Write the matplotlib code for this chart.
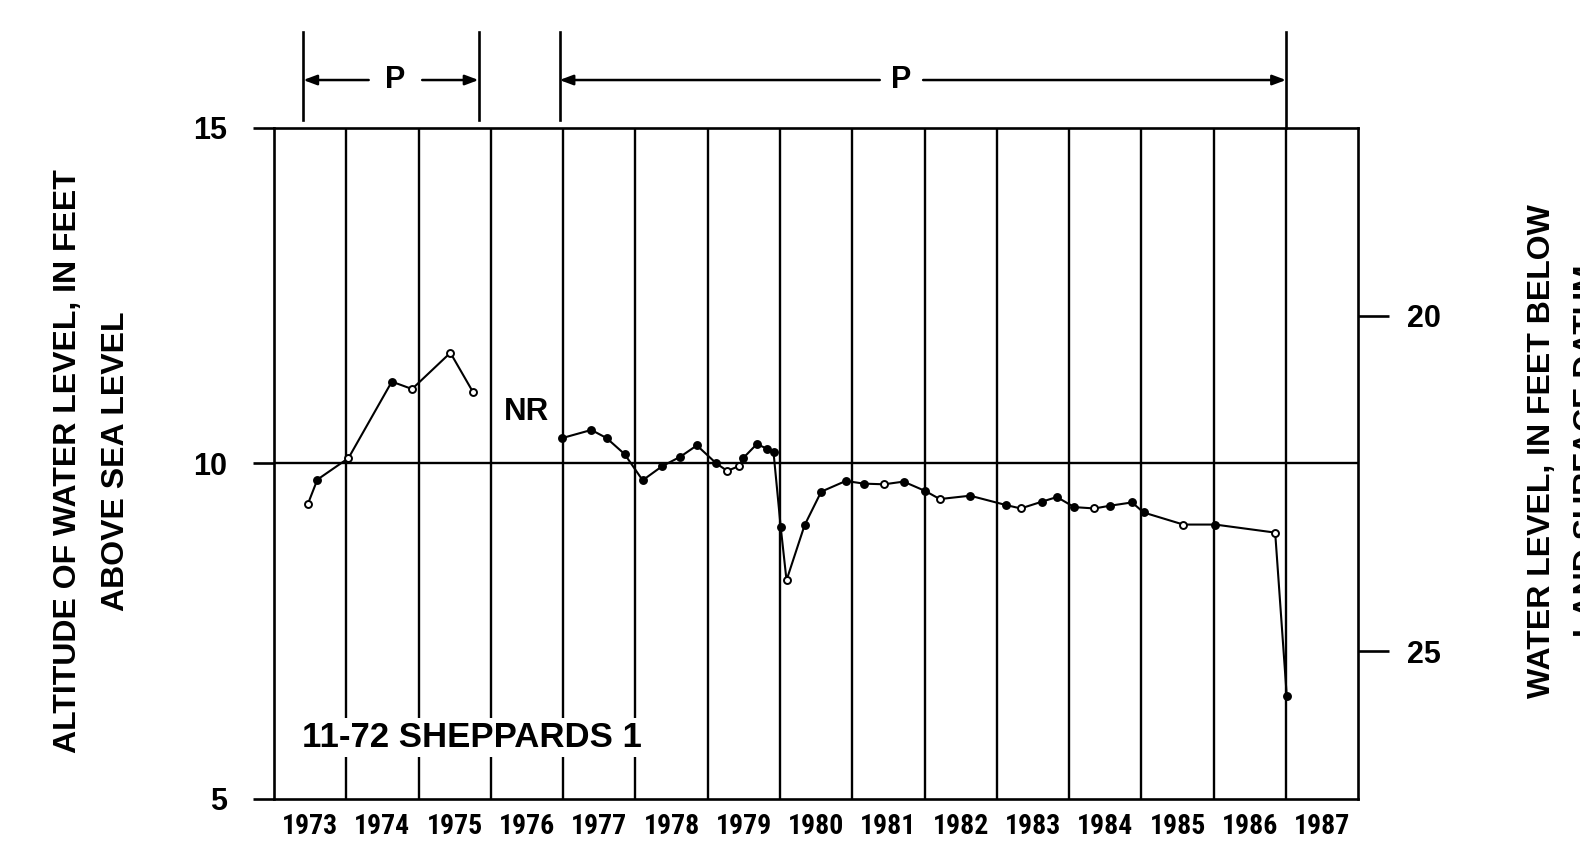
import matplotlib
matplotlib.use("Agg")
import matplotlib.pyplot as plt
from matplotlib import font_manager

# ---------------- data ----------------
seg1_year = [1973.47, 1973.60, 1974.03, 1974.63, 1974.91, 1975.44, 1975.75]
seg1_alt = [9.40, 9.76, 10.08, 11.22, 11.11, 11.65, 11.07]
seg1_open = [1, 0, 1, 0, 1, 1, 1]

seg2_year = [1976.99, 1977.39, 1977.60, 1977.85, 1978.10, 1978.37, 1978.62, 1978.85,
             1979.12, 1979.27, 1979.43, 1979.49, 1979.68, 1979.82, 1979.91, 1980.01,
             1980.09, 1980.34, 1980.57, 1980.91, 1981.16, 1981.44, 1981.71, 1982.01,
             1982.21, 1982.63, 1983.13, 1983.33, 1983.62, 1983.83, 1984.07, 1984.35,
             1984.56, 1984.87, 1985.03, 1985.58, 1986.02, 1986.85, 1987.01]
seg2_alt = [10.38, 10.50, 10.38, 10.14, 9.75, 9.96, 10.10, 10.27,
            10.00, 9.89, 9.96, 10.08, 10.29, 10.22, 10.17, 9.05,
            8.26, 9.08, 9.58, 9.74, 9.70, 9.69, 9.73, 9.59,
            9.47, 9.52, 9.38, 9.33, 9.43, 9.50, 9.35, 9.33,
            9.37, 9.42, 9.27, 9.09, 9.09, 8.97, 6.54]
seg2_open = [0, 0, 0, 0, 0, 0, 0, 0,
             0, 1, 1, 0, 0, 0, 0, 0,
             1, 0, 0, 0, 0, 1, 0, 0,
             1, 0, 0, 1, 0, 0, 0, 1,
             0, 0, 0, 1, 0, 1, 0]

years = list(range(1973, 1988))
year_labels = [str(y) for y in years]
left_ticks = [5, 10, 15]
right_ticks = [20, 25]
land_surface = 32.2  # altitude of land-surface datum (ft)

# periods of record (P) brackets: (start, end, P position, gap)
p_periods = [(1973.405, 1975.83, 1974.68, 0.37), (1976.95, 1987.0, 1981.68, 0.30)]

# ---------------- fonts ----------------
names = {f.name for f in font_manager.fontManager.ttflist}
bold_font = "Liberation Sans" if "Liberation Sans" in names else "DejaVu Sans"
narrow_font = bold_font
for cand in ["Liberation Sans Narrow", "Roboto Condensed", "Open Sans Condensed"]:
    if cand in names:
        narrow_font = cand
        break
plt.rcParams["font.family"] = [bold_font, "DejaVu Sans"]

# ---------------- figure ----------------
fig = plt.figure(figsize=(15.8, 8.41), dpi=100)
ax = fig.add_axes([274 / 1580, 1 - 799 / 841, (1358.3 - 274) / 1580, (799 - 128) / 841])

ax.set_xlim(1973, 1988)
ax.set_ylim(5, 15)

# grid
for y in years[1:]:
    ax.axvline(y, color="black", lw=1.7, zorder=1)
ax.axhline(10, color="black", lw=1.7, zorder=1)

for s in ax.spines.values():
    s.set_linewidth(1.9)

# data
def draw(xs, ys, opens):
    ax.plot(xs, ys, color="black", lw=1.5, zorder=3)
    for x, y, o in zip(xs, ys, opens):
        ax.plot([x], [y], marker="o", ms=5, mec="black", mew=1.4,
                mfc="white" if o else "black", zorder=4)

draw(seg1_year, seg1_alt, seg1_open)
draw(seg2_year, seg2_alt, seg2_open)

# ticks
ax.set_yticks(left_ticks)
ax.set_yticklabels([str(t) for t in left_ticks], fontsize=22, fontweight="bold")
ax.tick_params(axis="y", direction="out", length=15, width=1.9, pad=19)
ax.set_xticks([y + 0.5 for y in years])
ax.set_xticklabels(year_labels, fontsize=20, family=narrow_font, fontweight="bold")
ax.tick_params(axis="x", length=0, pad=10)

ax2 = ax.twinx()
ax2.set_ylim(land_surface - 5, land_surface - 15)
ax2.set_yticks(right_ticks)
ax2.set_yticklabels([str(t) for t in right_ticks], fontsize=22, fontweight="bold")
ax2.tick_params(axis="y", direction="out", length=22, width=1.9, pad=13)
for s in ax2.spines.values():
    s.set_visible(False)

# texts
ax.text(1973.39, 5.92, "11-72 SHEPPARDS 1", fontsize=25, fontweight="bold",
        ha="left", va="center", zorder=5,
        bbox=dict(facecolor="white", edgecolor="none", pad=2))
ax.text(1976.49, 10.77, "NR", fontsize=22.5, fontweight="bold", ha="center", va="center")

# P brackets
tr = ax.get_xaxis_transform()
ya = 1.0715
for i, (x0, x1, xp, gap) in enumerate(p_periods):
    ax.plot([x0, x0], [1.012, 1.143], color="black", lw=1.9, transform=tr, clip_on=False)
    ax.plot([x1, x1], [1.012 if i == 0 else 1.0, 1.143], color="black", lw=1.9,
            transform=tr, clip_on=False)
    ax.annotate("", xy=(x0, ya), xytext=(xp - gap, ya), xycoords=tr, textcoords=tr,
                arrowprops=dict(arrowstyle="-|>,head_length=0.8,head_width=0.3",
                                color="black", lw=1.8, shrinkA=0, shrinkB=0),
                annotation_clip=False)
    ax.annotate("", xy=(x1, ya), xytext=(xp + gap, ya), xycoords=tr, textcoords=tr,
                arrowprops=dict(arrowstyle="-|>,head_length=0.8,head_width=0.3",
                                color="black", lw=1.8, shrinkA=0, shrinkB=0),
                annotation_clip=False)
    ax.text(xp, ya, "P", transform=tr, fontsize=22, fontweight="bold",
            ha="center", va="center", clip_on=False)

# axis titles
fig.text(68.5 / 1580, 0.452, "ALTITUDE OF WATER LEVEL, IN FEET", rotation=90,
         fontsize=23, fontweight="bold", ha="center", va="center")
fig.text(116 / 1580, 0.452, "ABOVE SEA LEVEL", rotation=90,
         fontsize=23, fontweight="bold", ha="center", va="center")
fig.text(1542 / 1580, 0.464, "WATER LEVEL, IN FEET BELOW", rotation=90,
         fontsize=23, fontweight="bold", ha="center", va="center")
fig.text(1588 / 1580, 0.464, "LAND SURFACE DATUM", rotation=90,
         fontsize=23, fontweight="bold", ha="center", va="center")

fig.savefig("out.png", dpi=100)
